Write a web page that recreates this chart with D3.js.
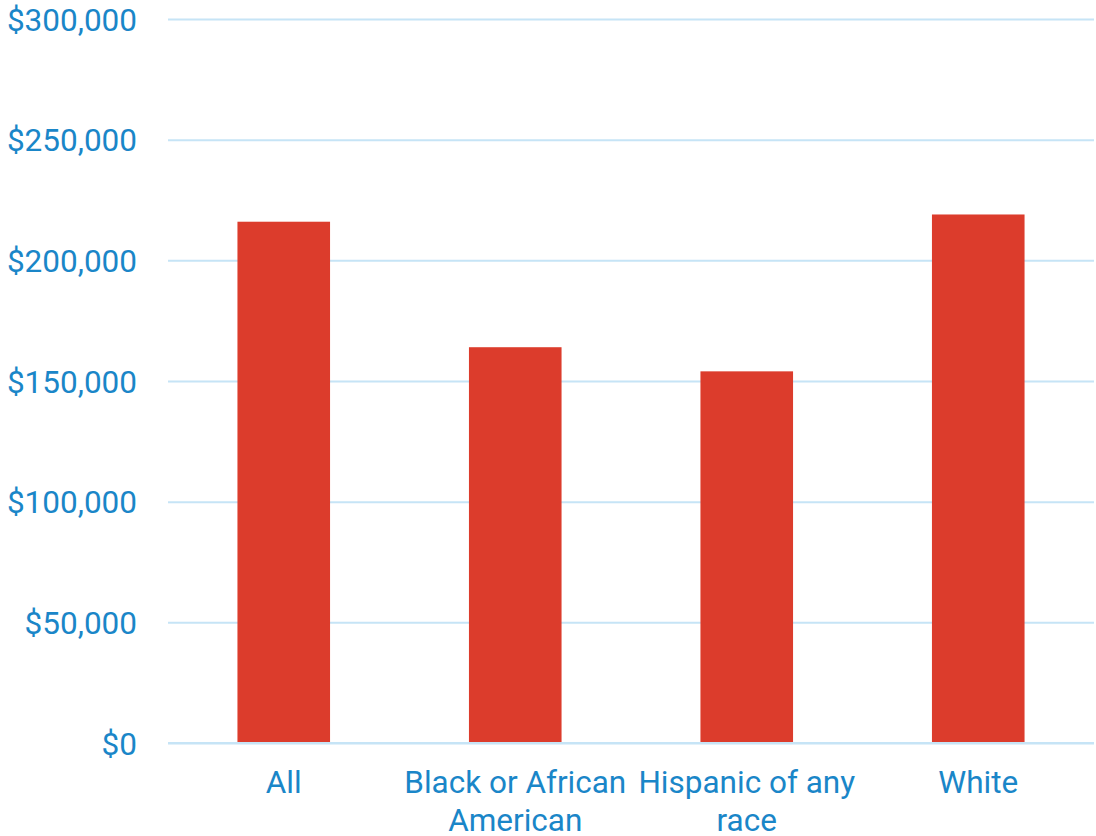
<!DOCTYPE html>
<html>
<head>
<meta charset="utf-8">
<script src="https://cdn.jsdelivr.net/npm/d3@7"></script>
<style>
  html, body { margin: 0; padding: 0; background: #fff; }
  svg { display: block; }
</style>
</head>
<body>
<svg id="chart" width="1096" height="836"></svg>
<script>
// Median value by group
const categories = ["All", "Black or African American", "Hispanic of any race", "White"];
const values = [216000, 164000, 154000, 219000];
const yTicks = [0, 50000, 100000, 150000, 200000, 250000, 300000];

const svg = d3.select("#chart");
const margin = { top: 19, right: 2, bottom: 93, left: 168 };
const W = 1096, H = 836;
const fontFamily = "Roboto, 'Noto Sans', sans-serif";
const fontSize = 31.5;

const x = d3.scaleBand()
  .domain(categories)
  .range([margin.left, W - margin.right])
  .paddingInner(0.6)
  .paddingOuter(0.3);

const y = d3.scaleLinear()
  .domain([0, 300000])
  .range([H - margin.bottom, margin.top]);

const textColor = "#1a86c8";
const gridColor = "#c6e4f6";
const barColor = "#dc3c2c";
const fmt = v => "$" + d3.format(",")(v);

// Horizontal gridlines with dollar labels
const yAxis = svg.append("g")
  .attr("transform", `translate(${margin.left},0)`)
  .call(d3.axisLeft(y).tickValues(yTicks).tickFormat(fmt)
    .tickSize(-(W - margin.right - margin.left)).tickPadding(31))
  .attr("font-family", fontFamily)
  .attr("font-size", fontSize);
yAxis.select(".domain").remove();
yAxis.selectAll(".tick line").attr("stroke", gridColor).attr("stroke-width", 2);
yAxis.selectAll(".tick text")
  .attr("fill", textColor)
  .attr("dy", "0.35em");

// Bars
svg.append("g").selectAll("rect")
  .data(categories)
  .join("rect")
  .attr("x", d => x(d))
  .attr("width", x.bandwidth())
  .attr("y", (d, i) => y(values[i]))
  .attr("height", (d, i) => y(0) - y(values[i]))
  .attr("fill", barColor);

// Category labels, wrapped to the band step
const xAxis = svg.append("g")
  .attr("transform", `translate(0,${y(0)})`)
  .call(d3.axisBottom(x).tickSize(0).tickPadding(28))
  .attr("font-family", fontFamily)
  .attr("font-size", fontSize);
xAxis.select(".domain").remove();
xAxis.selectAll(".tick text")
  .attr("fill", textColor)
  .each(function (d) { wrap(d3.select(this), x.step()); });

function wrap(text, width) {
  const words = text.text().split(/\s+/);
  const yAttr = text.attr("y");
  const dy = parseFloat(text.attr("dy")) || 0;
  text.text(null);
  let line = [];
  let lineNo = 0;
  let tspan = text.append("tspan").attr("x", 0).attr("y", yAttr).attr("dy", dy + "em");
  for (const w of words) {
    line.push(w);
    tspan.text(line.join(" "));
    if (tspan.node().getComputedTextLength() > width && line.length > 1) {
      line.pop();
      tspan.text(line.join(" "));
      line = [w];
      lineNo++;
      tspan = text.append("tspan").attr("x", 0).attr("y", yAttr)
        .attr("dy", (lineNo * 1.2 + dy) + "em").text(w);
    }
  }
}

// Redraw the baseline over the bars
svg.append("line")
  .attr("x1", margin.left).attr("x2", W - margin.right)
  .attr("y1", y(0)).attr("y2", y(0))
  .attr("stroke", gridColor).attr("stroke-width", 2);
</script>
</body>
</html>
